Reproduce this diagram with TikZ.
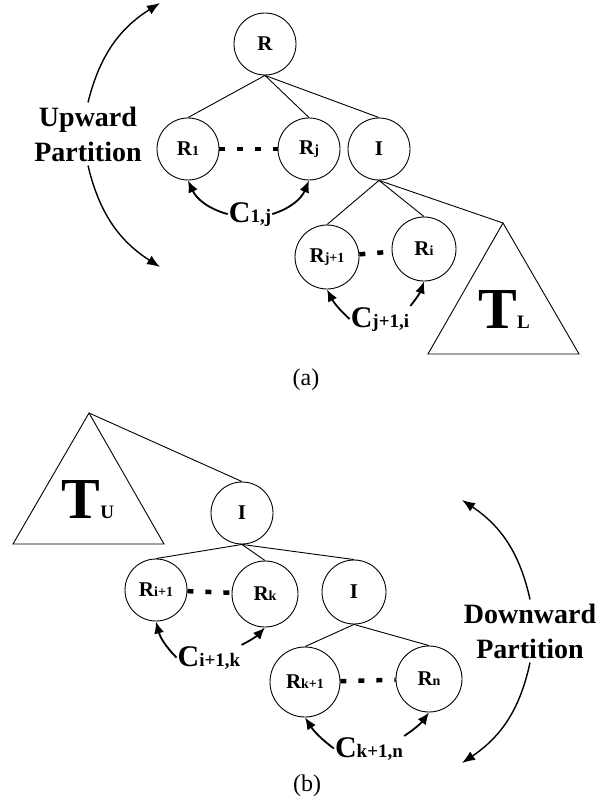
\documentclass[tikz,border=0pt]{standalone}
\usepackage{fontspec}
\setmainfont{Liberation Serif}
\usetikzlibrary{arrows.meta}
\newcommand{\rsub}[2]{#1{\fontsize{14}{14}\selectfont #2}}
\newcommand{\csub}[1]{{\fontsize{30}{30}\selectfont C}{\fontsize{19}{19}\selectfont #1}}
\newcommand{\tsub}[1]{{\fontsize{58}{58}\selectfont T}{\fontsize{19}{19}\selectfont #1}}
\begin{document}
\begin{tikzpicture}[x=1pt, y=-1pt,
            font=\bfseries,
            tnode/.style={draw, circle, line width=0.9pt, minimum size=62pt,
            inner sep=0pt, font=\fontsize{21}{21}\selectfont\bfseries},
            edge/.style={line width=0.9pt},
            dots/.style={line width=4.5pt, dash pattern=on 6pt off 12pt},
            lbl/.style={inner sep=1pt, anchor=base},
            cost/.style={-{Latex[length=12pt,width=10pt]}, line width=1.8pt},
            part/.style={align=center, inner sep=4pt, font=\fontsize{28}{35}\selectfont\bfseries},
            partarr/.style={-{Latex[length=13pt,width=10pt]}, line width=1.4pt},
            subcap/.style={font=\fontsize{24}{24}\selectfont\mdseries}
        ]
\useasboundingbox (0,0) rectangle (606,805);
% (a) upward partition
            \node[tnode]                      (r)   at (265,44)  {R};
            \node[tnode]                      (r1)  at (188,149) {\rsub{R}{1}};
            \node[tnode]                      (rj)  at (309,149) {\rsub{R}{j}};
            \node[tnode]                      (ia)  at (379,149) {I};
            \node[tnode, minimum size=64pt]   (rj1) at (327,257) {\rsub{R}{j+1}};
            \node[tnode, minimum size=64pt]   (ri)  at (424,249) {\rsub{R}{i}};
            \coordinate (tl) at (503,223);
            \draw[edge] (tl) -- (428,354) -- (579,354) -- cycle;
            \node[lbl] (tll) at (504,328) {\tsub{L}};

            \draw[edge] (r.south)  -- (r1.north);
            \draw[edge] (r.south)  -- (rj.north);
            \draw[edge] (r.south)  -- (ia.north);
            \draw[edge] (ia.south) -- (rj1.north);
            \draw[edge] (ia.south) -- (ri.north);
            \draw[edge] (ia.south) -- (tl);
            \draw[dots] (r1) -- (rj);
            \draw[dots] (rj1) -- (ri);

            \node[lbl] (c1j)  at (250,222) {\csub{1,j}};
            \node[lbl] (cj1i) at (380,327) {\csub{j+1,i}};
            \draw[cost] (c1j.west)  to[bend left=25]  (r1.south);
            \draw[cost] (c1j.east)  to[bend right=25] (rj.south);
            \draw[cost] (cj1i.west) to[bend left=10]  (rj1.south);
            \draw[cost] (cj1i.north east) to[bend right=10] (ri.south);

            \node[part] (up) at (88,134) {Upward\\Partition};
            \coordinate (uptip) at (160,3);
            \coordinate (upend) at (160,267);
            \draw[partarr] (up.north) to[bend left=22]  (uptip);
            \draw[partarr] (up.south) to[bend right=22] (upend);

            \node[subcap] (capa) at (306,380) {(a)};
% (b) downward partition
            \coordinate (tu) at (89,413);
            \draw[edge] (tu) -- (164,544) -- (13,544) -- cycle;
            \node[lbl] (tul) at (88,518) {\tsub{U}};
            \node[tnode]                      (ib)  at (242,513) {I};
            \node[tnode]                      (ri1) at (156,590) {\rsub{R}{i+1}};
            \node[tnode, minimum size=66pt]   (rk)  at (265,594) {\rsub{R}{k}};
            \node[tnode, minimum size=64pt]   (ic)  at (354,592) {I};
            \node[tnode, minimum size=70pt]   (rk1) at (305,682) {\rsub{R}{k+1}};
            \node[tnode, minimum size=66pt]   (rn)  at (429,679) {\rsub{R}{n}};

            \draw[edge] (tu)       -- (ib.north);
            \draw[edge] (ib.south) -- (ri1.north);
            \draw[edge] (ib.south) -- (rk.north);
            \draw[edge] (ib.south) -- (ic.north);
            \draw[edge] (ic.south) -- (rk1.north);
            \draw[edge] (ic.south) -- (rn.north);
            \draw[dots] (ri1) -- (rk);
            \draw[dots] (rk1) -- (rn);

            \node[lbl] (ci1k) at (209,666) {\csub{i+1,k}};
            \node[lbl] (ck1n) at (369,757) {\csub{k+1,n}};
            \draw[cost] (ci1k.west) to[bend left=15]  (ri1.south);
            \draw[cost] (ci1k.north east) to[bend right=10] (rk.south);
            \draw[cost] (ck1n.west) to[bend left=10]  (rk1.south);
            \draw[cost] (ck1n.north east) to[bend right=10] (rn.south);

            \node[part] (down) at (530,631) {Downward\\Partition};
            \coordinate (dntip) at (462,500);
            \coordinate (dnend) at (462,763);
            \draw[partarr] (down.north) to[bend right=22] (dntip);
            \draw[partarr] (down.south) to[bend left=22]  (dnend);

            \node[subcap] (capb) at (307,786) {(b)};
\end{tikzpicture}
\end{document}
